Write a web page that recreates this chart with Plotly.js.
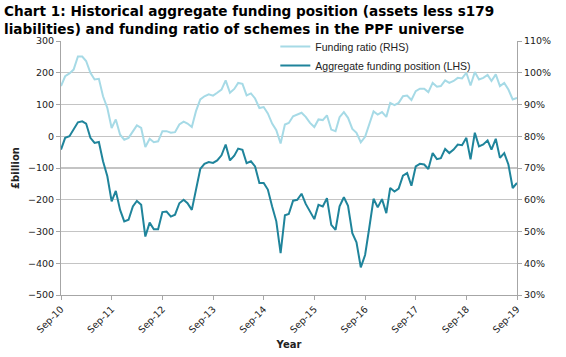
<!DOCTYPE html>
<html>
<head>
<meta charset="utf-8">
<script src="https://cdn.plot.ly/plotly-3.0.1.min.js"></script>
<style>html,body{margin:0;padding:0;background:#fff;}#chart{width:566px;height:357px;}</style>
</head>
<body>
<div id="chart"></div>
<script>
// Monthly observations, Sep-2010 .. Sep-2019
const startMonth = '2010-09';
const fundingPosition = [ // £bn, LHS
 -42,-5,0,24,44,47,40,-5,-21,-18,
 -79,-126,-205,-172,-232,-268,-263,-221,-204,-216,
 -316,-272,-293,-293,-239,-237,-253,-247,-211,-200,
 -211,-232,-163,-103,-87,-81,-84,-76,-60,-26,
 -76,-61,-39,-43,-85,-79,-95,-147,-147,-168,
 -221,-268,-368,-249,-245,-203,-200,-181,-213,-237,
 -261,-216,-221,-195,-279,-295,-221,-192,-219,-305,
 -334,-413,-374,-289,-197,-224,-198,-242,-163,-174,
 -165,-124,-116,-156,-95,-87,-89,-103,-53,-72,
 -69,-40,-53,-42,-26,-28,-5,-73,11,-32,
 -26,-13,-42,-8,-68,-53,-89,-163,-147
];
const fundingRatio = [ // %, RHS
 95.8,98.9,99.8,101.0,105.1,105.1,103.7,100.0,97.9,98.1,
 92.6,88.9,82.6,85.3,80.5,78.9,79.5,81.6,83.4,82.6,
 76.6,79.2,78.1,78.4,81.6,81.6,81.1,81.3,83.7,84.6,
 84.0,82.9,87.9,91.6,92.6,93.2,92.8,93.7,94.7,97.6,
 93.7,94.9,96.8,96.5,92.9,93.5,91.9,88.9,89.2,87.2,
 84.0,81.9,77.7,83.7,84.2,86.3,86.8,87.4,86.1,84.2,
 82.9,85.3,85.1,86.6,82.1,81.6,86.0,87.6,85.8,82.3,
 81.1,78.1,79.8,83.7,87.8,86.8,87.6,86.1,90.5,89.8,
 90.5,92.6,92.8,91.4,94.2,95.0,95.0,93.9,96.8,95.6,
 95.8,97.6,96.8,97.4,98.4,98.2,100.0,96.0,100.2,97.9,
 98.4,99.3,97.4,99.5,95.8,96.8,94.7,91.6,92.1
];
const tickDates = ['2010-09-01','2011-09-01','2012-09-01','2013-09-01','2014-09-01','2015-09-01','2016-09-01','2017-09-01','2018-09-01','2019-09-01'];
const tickLabels = ['Sep-10','Sep-11','Sep-12','Sep-13','Sep-14','Sep-15','Sep-16','Sep-17','Sep-18','Sep-19'];
const chartTitle = 'Chart 1: Historical aggregate funding position (assets less s179<br>liabilities) and funding ratio of schemes in the PPF universe';

const dates = [];
for (let i = 0; i < fundingPosition.length; i++) {
  const y = 2010 + Math.floor((8 + i) / 12);
  const m = (8 + i) % 12 + 1;
  dates.push(y + '-' + String(m).padStart(2, '0') + '-01');
}

const W = 566, H = 357, L = 61, R = 49, T = 41, B = 62;
const pw = W - L - R, ph = H - T - B;

const tickFont = {family: 'DejaVu Sans, Verdana, sans-serif', size: 9.5, color: '#222'};
const traces = [
  {x: dates, y: fundingRatio, name: 'Funding ratio (RHS)', yaxis: 'y2', type: 'scatter', mode: 'lines',
   line: {color: '#a6dae6', width: 2}},
  {x: dates, y: fundingPosition, name: 'Aggregate funding position (LHS)', yaxis: 'y', type: 'scatter', mode: 'lines',
   line: {color: '#1f849b', width: 2}}
];
const layout = {
  width: W, height: H,
  margin: {l: L, r: R, t: T, b: B},
  paper_bgcolor: '#fff', plot_bgcolor: '#fff',
  showlegend: true,
  annotations: [{
    text: '<b>' + chartTitle + '</b>',
    xref: 'paper', yref: 'paper',
    x: (2 - L) / pw, y: 1 + (T - 1) / ph,
    xanchor: 'left', yanchor: 'top', align: 'left', showarrow: false,
    font: {family: 'DejaVu Sans, Verdana, sans-serif', size: 13.6, color: '#000'}
  }],
  legend: {
    x: 0.47, y: 1.035, xanchor: 'left', yanchor: 'top',
    bgcolor: 'rgba(0,0,0,0)', font: {family: 'Liberation Sans, Arial, sans-serif', size: 10.5, color: '#222'},
    tracegroupgap: 0, itemwidth: 30
  },
  xaxis: {
    type: 'date', range: ['2010-09-01', '2019-09-01'],
    tickvals: tickDates, ticktext: tickLabels, tickangle: -45,
    tickfont: tickFont, showgrid: false, zeroline: false,
    showline: true, linecolor: '#a6a6a6', linewidth: 1,
    ticks: 'outside', ticklen: 4, tickcolor: '#a6a6a6',
    title: {text: '<b>Year</b>', font: {family: 'DejaVu Sans, Verdana, sans-serif', size: 10, color: '#222'}, standoff: 6},
    automargin: false
  },
  yaxis: {
    range: [-500, 300], dtick: 100, tick0: 0,
    tickfont: tickFont, showgrid: true, gridcolor: '#c4c4c4', gridwidth: 1.2, zeroline: false,
    showline: true, linecolor: '#a6a6a6', linewidth: 1,
    ticks: 'outside', ticklen: 4, tickcolor: '#a6a6a6',
    title: {text: '<b>£billion</b>', font: {family: 'DejaVu Sans, Verdana, sans-serif', size: 10, color: '#222'}, standoff: 6},
    automargin: false
  },
  yaxis2: {
    range: [30, 110], dtick: 10, tick0: 0, ticksuffix: '%', overlaying: 'y', side: 'right',
    tickfont: tickFont, showgrid: false, zeroline: false,
    showline: true, linecolor: '#a6a6a6', linewidth: 1,
    ticks: 'outside', ticklen: 4, tickcolor: '#a6a6a6',
    automargin: false
  }
};
Plotly.newPlot('chart', traces, layout, {displayModeBar: false, staticPlot: true});
</script>
</body>
</html>
